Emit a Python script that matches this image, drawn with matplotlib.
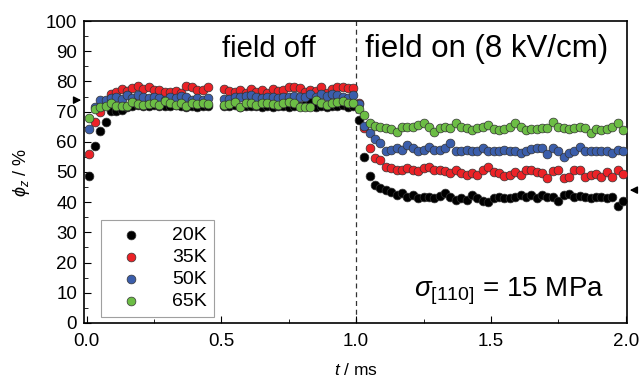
import numpy as np
import matplotlib
matplotlib.use("Agg")
import matplotlib.pyplot as plt
from matplotlib.ticker import MultipleLocator

plt.rcParams['font.family'] = ['Liberation Sans', 'DejaVu Sans']
plt.rcParams['mathtext.fontset'] = 'custom'
plt.rcParams['mathtext.rm'] = 'Liberation Sans'
plt.rcParams['mathtext.it'] = 'Liberation Sans:italic'

# time grid in ms (0.01 ... 1.99, step 0.02); 0.47 and 0.49 have no data
t = np.arange(0.01, 2.0, 0.02)
nan = np.nan

phi_20K = [48.8, 58.6, 63.7, 66.7, 70.2, 70.3, 70.6, 71.5, 72.0, 72.3, 72.0, 71.8, 72.3, 72.0, 71.7, 72.0, 72.3, 71.8, 71.5, 72.0, 71.6, 72.0, 71.8,
           nan, nan,
           72.0, 71.8, 72.2, 71.6, 71.8, 72.0, 71.8, 71.5, 72.0, 71.5, 71.8, 72.0, 71.6, 71.8, 72.0, 72.3, 73.8, 71.5, 72.0, 71.6, 71.8, 72.0, 72.3, 71.5, 72.0,
           67.2, 54.9, 48.8, 45.7, 44.6, 44.0, 43.5, 42.4, 43.0, 41.6, 42.4, 41.3, 41.8, 41.8, 41.3, 42.0, 43.0, 41.8, 40.7, 41.3, 40.7, 42.4, 41.3, 40.5, 40.2,
           41.3, 41.6, 41.3, 41.3, 41.8, 42.4, 41.8, 42.4, 41.3, 42.4, 41.8, 41.6, 40.5, 42.4, 42.7, 41.8, 42.0, 41.6, 41.3, 41.8, 41.6, 41.3, 41.8, 38.6, 40.5]

phi_35K = [56.0, 66.5, 70.0, 73.5, 75.7, 76.6, 77.4, 76.9, 77.7, 78.5, 77.4, 78.0, 77.0, 77.0, 76.6, 76.6, 76.8, 76.3, 78.5, 78.0, 77.0, 77.0, 78.2,
           nan, nan,
           77.4, 76.9, 76.6, 77.2, 76.3, 77.4, 76.6, 77.2, 76.0, 77.4, 76.9, 77.2, 78.0, 78.0, 77.7, 76.6, 77.2, 76.9, 78.0, 76.0, 77.4, 78.3, 78.0, 77.7, 77.7,
           72.7, 64.5, 57.8, 54.5, 53.9, 51.5, 51.2, 50.8, 50.8, 51.2, 50.7, 50.4, 51.2, 51.8, 50.7, 50.8, 50.4, 49.8, 50.7, 49.8, 49.0, 49.6, 49.0, 50.7, 51.5,
           50.1, 49.6, 48.7, 49.0, 50.1, 49.0, 50.7, 50.7, 50.1, 49.8, 47.9, 50.4, 50.7, 47.9, 48.5, 50.7, 50.7, 48.5, 49.0, 49.4, 48.5, 50.1, 48.5, 50.7, 49.4]

phi_50K = [64.2, 71.5, 74.0, 74.0, 74.5, 75.0, 74.2, 75.5, 74.5, 75.5, 74.8, 74.5, 75.0, 74.5, 74.0, 74.8, 74.5, 75.2, 74.8, 74.0, 74.5, 74.0, 74.6,
           nan, nan,
           74.1, 74.1, 74.7, 74.9, 75.2, 75.5, 74.7, 74.4, 74.9, 74.7, 74.4, 74.7, 74.9, 75.2, 74.7, 74.9, 75.8, 74.9, 75.8, 75.2, 75.8, 75.5, 74.9, 74.4, 75.5,
           72.5, 65.2, 63.0, 60.8, 59.5, 57.1, 57.3, 57.8, 57.3, 58.9, 57.8, 57.1, 57.3, 58.4, 57.3, 57.3, 57.8, 59.5, 56.8, 57.1, 57.3, 56.8, 57.1, 57.8, 56.8,
           56.8, 57.1, 57.3, 57.1, 56.8, 56.4, 56.8, 57.5, 57.9, 57.9, 56.0, 57.9, 56.8, 55.1, 56.4, 57.1, 58.4, 57.1, 57.1, 56.8, 57.1, 56.8, 56.2, 57.3, 57.1]

phi_65K = [67.8, 71.0, 71.4, 72.0, 72.7, 71.8, 71.8, 71.8, 73.2, 72.6, 72.2, 72.5, 73.0, 72.2, 73.4, 72.8, 72.3, 73.0, 71.8, 73.0, 72.5, 72.8, 72.6,
           nan, nan,
           72.2, 72.5, 73.3, 71.4, 72.7, 73.0, 72.2, 73.0, 73.0, 72.5, 72.2, 73.0, 73.3, 73.0, 71.6, 71.6, 71.4, 73.8, 73.0, 72.2, 72.7, 73.3, 73.6, 72.7, 73.0,
           70.8, 68.9, 66.1, 65.3, 64.8, 64.5, 64.1, 63.4, 65.0, 65.0, 64.8, 65.6, 66.1, 65.0, 63.4, 64.5, 65.0, 64.5, 66.1, 65.0, 64.5, 64.0, 64.5, 65.0, 65.6,
           64.1, 63.9, 64.1, 65.0, 66.2, 64.9, 63.9, 64.1, 64.1, 64.5, 64.7, 66.4, 65.0, 64.5, 64.1, 64.5, 64.9, 64.5, 62.8, 64.1, 63.9, 64.1, 65.0, 66.1, 63.9]

labels = ['20K', '35K', '50K', '65K']
colors = ['#000000', '#ec2227', '#3b5eab', '#6cbd45']
series = [phi_20K, phi_35K, phi_50K, phi_65K]

fig = plt.figure(figsize=(6.42, 3.82), dpi=100)
ax = fig.add_axes([0.1308, 0.1545, 0.8458, 0.7905])

for y, c, lab in zip(series, colors, labels):
    ax.scatter(t, y, s=40, color=c, edgecolors='#333333', linewidths=0.5, label=lab, zorder=3)

ax.axvline(1.0, color='#333333', ls=(0, (4, 3)), lw=0.9, zorder=1)

ax.set_xlim(-0.01, 2.005)
ax.set_ylim(0, 100)
ax.xaxis.set_major_locator(MultipleLocator(0.5))
ax.xaxis.set_minor_locator(MultipleLocator(0.25))
ax.yaxis.set_major_locator(MultipleLocator(10))
ax.yaxis.set_minor_locator(MultipleLocator(5))
ax.tick_params(which='both', direction='in', labelsize=13.5)
ax.tick_params(axis='x', pad=7)
ax.tick_params(axis='y', pad=5)
ax.tick_params(which='major', length=5)
ax.tick_params(which='minor', length=3)
ax.xaxis.set_major_formatter(matplotlib.ticker.FormatStrFormatter('%.1f'))
for s in ax.spines.values():
    s.set_linewidth(1.2)

ax.set_xlabel(r'$t$ / ms', fontsize=12.5, labelpad=9)
ax.set_ylabel(r'$\phi_z$ / %', fontsize=13, labelpad=10)

ax.text(0.675, 88, 'field off', fontsize=21, ha='center', va='baseline')
ax.text(1.485, 88, 'field on (8 kV/cm)', fontsize=22.5, ha='center', va='baseline')
ax.text(1.92, 8.8, r'$\sigma_{[110]}$ = 15 MPa', fontsize=20, ha='right', va='baseline')

# arrows at the axes edges
ax.annotate('', xy=(-0.01, 73.8), xytext=(-0.05, 73.8), annotation_clip=False,
            arrowprops=dict(arrowstyle='-|>', color='k', lw=1, mutation_scale=11))
ax.annotate('', xy=(2.005, 44.0), xytext=(2.05, 44.0), annotation_clip=False,
            arrowprops=dict(arrowstyle='-|>', color='k', lw=1, mutation_scale=11))

leg = ax.legend(loc='lower left', bbox_to_anchor=(0.032, 0.02), fontsize=14, frameon=True,
                fancybox=False, edgecolor='#888888', handletextpad=1.0, borderpad=0.35,
                labelspacing=0.22, borderaxespad=0, handlelength=2.3, scatterpoints=1)
leg.get_frame().set_linewidth(0.8)

fig.savefig('out.png', dpi=100)
